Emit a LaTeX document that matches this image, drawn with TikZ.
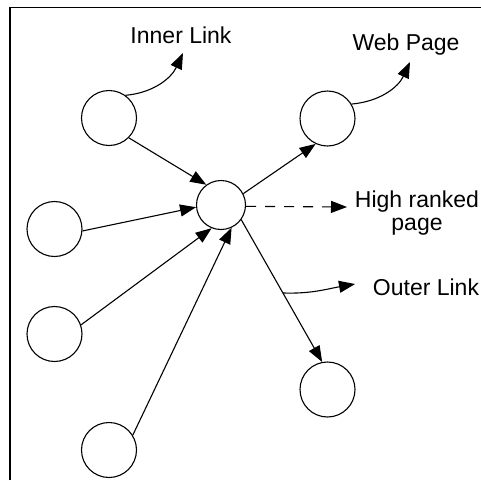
\documentclass[tikz,border=0pt]{standalone}
\usepackage{fontspec}
\setmainfont{Liberation Sans}
\usetikzlibrary{arrows.meta,calc}
\begin{document}
\begin{tikzpicture}[x=1pt,y=-1pt,
  pg/.style={circle, draw, minimum size=55pt, inner sep=0pt, line width=1.1pt},
  link/.style={line width=1.1pt, -{Triangle[length=16pt,width=12pt]}},
  lbl/.style={font=\fontsize{23}{26}\selectfont, inner sep=0pt}]
\useasboundingbox (0,0) rectangle (481,480);
\draw[line width=1.3pt] (10,480) -- (10,7.5) -- (481,7.5);
% nodes
\node[pg] (n1) at (109,118) {};
\node[pg] (n2) at (54.5,229) {};
\node[pg] (n3) at (54.5,334) {};
\node[pg] (n4) at (109,450) {};
\node[pg, minimum size=49pt] (c) at (221,205) {};
\node[pg] (wp) at (327.5,118.5) {};
\node[pg] (br) at (327.5,389.5) {};
% labels
\node[lbl, anchor=base] (tInner) at (181,43) {Inner Link};
\node[lbl, anchor=base] (tWeb) at (406,50) {Web Page};
\node[lbl, anchor=base] (tOuter) at (426,295) {Outer Link};
\node[lbl, anchor=base] (tHigh) at (417,207) {High ranked};
\node[lbl, anchor=base] (tPage) at (417,230) {page};
% free ends
\coordinate (ilTip) at (183,53);
\coordinate (wpTip) at (410,62);
\coordinate (olTip) at (355,284);
\coordinate (hrTip) at (347,207);
% connectors
\draw[link] (n1.-45) -- (c.126);
\draw[link] (n2.-4) -- (c.185);
\draw[link] (n3.19) -- (c.-112);
\draw[link] (n4.32) -- (c.-65);
\draw[link] (c.27) -- (wp.-115);
\draw[link] (c.-36) -- (br.101);
\coordinate (olStart) at ($(c.-36)!0.515!(br.101)$);
\draw[link] (n1.54) to[out=5,in=-115] (ilTip);
\draw[link] (wp.31) to[out=5,in=-115] (wpTip);
\draw[link] (olStart) to[out=-2,in=190] (olTip);
\draw[link, dash pattern=on 10pt off 9pt] (c.-3) -- (hrTip);
\end{tikzpicture}
\end{document}
